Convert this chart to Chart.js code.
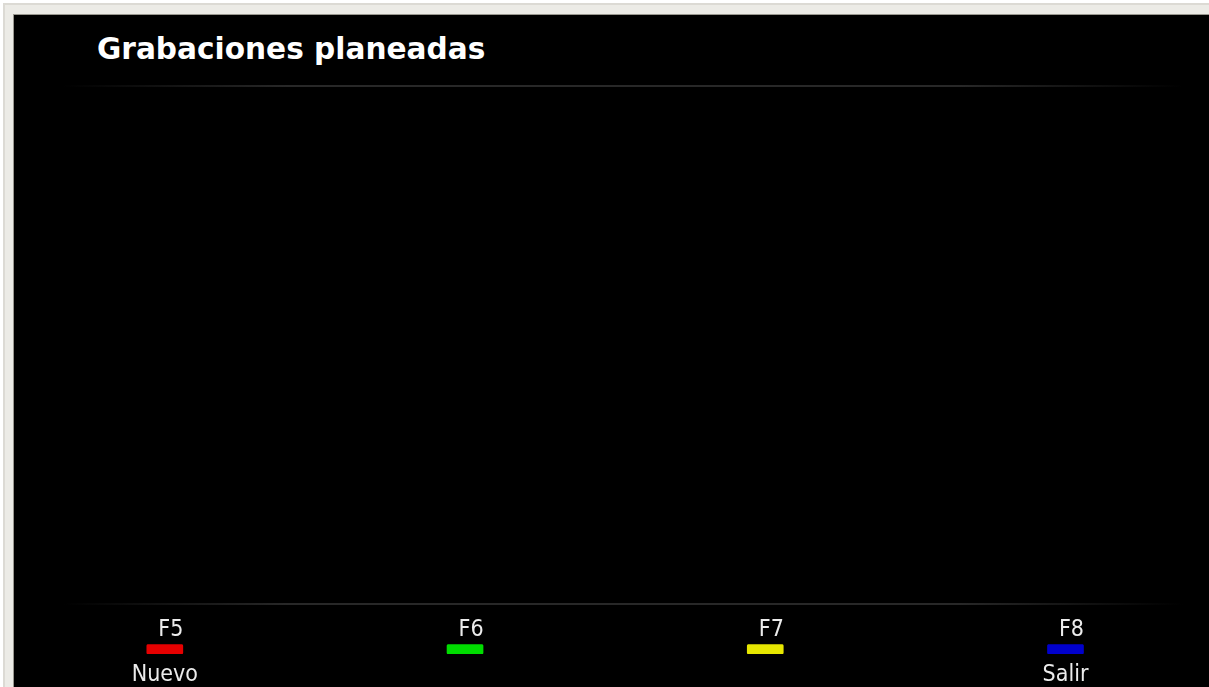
<!DOCTYPE html>
<html>
<head>
<meta charset="utf-8">
<script src="https://cdn.jsdelivr.net/npm/chart.js@4/dist/chart.umd.min.js"></script>
<style>
  html, body { margin: 0; padding: 0; background: #fff; overflow: hidden; }
  #frame {
    position: absolute; left: 3px; top: 3px; width: 1206px; height: 684px;
    background: #ecebe6; border-top: 2px solid #dcdad4; border-left: 2px solid #dcdad4;
  }
  #screen {
    position: absolute; left: 13px; top: 14px; width: 1196px; height: 673px;
    background: #000; overflow: hidden; border-top: 1px solid #9a9890; border-left: 1px solid #9a9890;
    box-sizing: border-box;
  }
  #title {
    position: absolute; left: 83px; top: 19px; margin: 0;
    font: bold 29.6px "DejaVu Sans", Verdana, sans-serif; line-height: 30px; color: #fff;
  }
  #wrap { position: absolute; left: -1px; top: -1px; width: 1216px; height: 679px; }
</style>
</head>
<body>
<div id="frame"></div>
<div id="screen">
  <h1 id="title">Grabaciones planeadas</h1>
  <div id="wrap"><canvas id="keys"></canvas></div>
</div>
<script>
// teclas de función y sus acciones
const keys = ['F5', 'F6', 'F7', 'F8'];
const actions = ['Nuevo', '', '', 'Salir'];
const keyColors = ['#e60000', '#00dc00', '#e6e600', '#0000cc'];
const keySpans = [[0, 1], [0, 1], [0, 1], [0, 1]];

const keyFont = { family: '"DejaVu Sans Condensed", "Liberation Sans Narrow", sans-serif', size: 23 };

// líneas separadoras con degradado (bajo el título y encima de las teclas)
const rulesPlugin = {
  id: 'rules',
  beforeDraw(chart) {
    const ctx = chart.ctx;
    [72, 590].forEach(y => {
      const g = ctx.createLinearGradient(50, 0, 1170, 0);
      g.addColorStop(0, 'rgba(40,40,40,0)');
      g.addColorStop(0.2, 'rgba(40,40,40,1)');
      g.addColorStop(0.8, 'rgba(40,40,40,1)');
      g.addColorStop(1, 'rgba(40,40,40,0)');
      ctx.save();
      ctx.fillStyle = g;
      ctx.fillRect(50, y - 1, 1120, 2);
      ctx.restore();
    });
  }
};

new Chart(document.getElementById('keys').getContext('2d'), {
  type: 'bar',
  data: {
    labels: keys,
    datasets: [{
      data: keySpans,
      backgroundColor: keyColors,
      barThickness: 36,
      borderRadius: 2,
      borderSkipped: false
    }]
  },
  options: {
    responsive: true,
    maintainAspectRatio: false,
    animation: false,
    layout: { padding: { top: 602.6, bottom: 1.4, left: 1.7, right: 13.4 } },
    plugins: { legend: { display: false }, tooltip: { enabled: false } },
    scales: {
      x: {
        position: 'top',
        offset: true,
        grid: { display: false, drawTicks: false },
        border: { display: false },
        ticks: { color: '#ececec', font: keyFont, padding: 0, maxRotation: 0, labelOffset: 6 }
      },
      x2: {
        type: 'category',
        labels: actions,
        position: 'bottom',
        offset: true,
        grid: { display: false, drawTicks: false },
        border: { display: false },
        ticks: { color: '#ececec', font: keyFont, padding: 7, maxRotation: 0, autoSkip: false }
      },
      y: { display: false, min: 0, max: 1 }
    }
  },
  plugins: [rulesPlugin]
});
</script>
</body>
</html>
